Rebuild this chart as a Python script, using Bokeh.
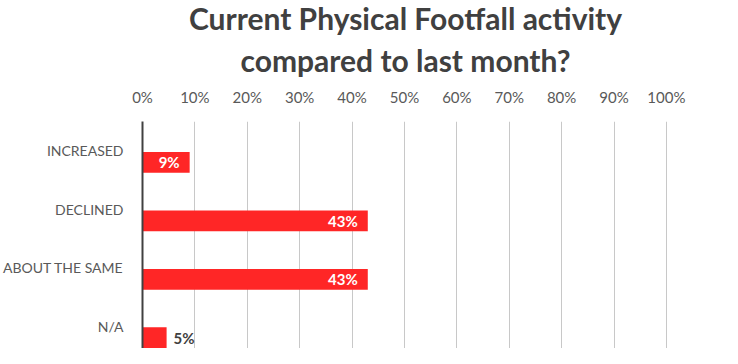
from bokeh.plotting import figure
from bokeh.models import Range1d, FixedTicker, Title, ColumnDataSource
from bokeh.core.properties import value
from bokeh.embed import file_html
from bokeh.resources import INLINE

# ---- data ----
categories = ["INCREASED", "DECLINED", "ABOUT THE SAME", "N/A"]
percentages = [9.0, 43.0, 43.0, 4.6]
x_ticks = [0, 10, 20, 30, 40, 50, 60, 70, 80, 90, 100]
title_lines = ["Current Physical Footfall activity", "compared to last month?"]

FONT = "Lato"
TXT = "#595959"
BAR = "#ff2626"

p = figure(width=722, height=348, output_backend="svg", toolbar_location=None,
           x_range=Range1d(0, 100.4), y_range=Range1d(3.884, 0),
           x_axis_location="above", min_border_left=134, min_border_right=54,
           min_border_bottom=0, min_border_top=0)
p.outline_line_color = None
p.background_fill_color = "white"
p.border_fill_color = "white"

# titles (second line added first so it sits nearest the plot)
standoffs = [13, -5]
for line, so in zip(reversed(title_lines), standoffs):
    t = Title(text=line, align="center", text_font=FONT, text_font_size="30px",
              text_font_style="bold", text_color="#404040",
              standoff=so, offset=0)
    p.add_layout(t, "above")
p.title.visible = False

# x axis (top)
xa = p.xaxis[0]
xa.ticker = FixedTicker(ticks=x_ticks)
xa.major_label_overrides = {t: f"{t}%" for t in x_ticks}
xa.axis_line_color = None
xa.major_tick_line_color = None
xa.minor_tick_line_color = None
xa.major_tick_out = 0
xa.major_label_standoff = 16
xa.major_label_text_font = FONT
xa.major_label_text_font_size = "15px"
xa.major_label_text_color = TXT

# y axis (categories)
ya = p.yaxis[0]
centers = [i + 0.5 for i in range(len(categories))]
ya.ticker = FixedTicker(ticks=centers)
ya.major_label_overrides = {c: cat for c, cat in zip(centers, categories)}
ya.axis_line_color = "#404040"
ya.axis_line_width = 2
ya.major_tick_line_color = None
ya.minor_tick_line_color = None
ya.major_tick_out = 0
ya.major_label_standoff = 19
ya.major_label_text_font = FONT
ya.major_label_text_font_size = "14px"
ya.major_label_text_color = TXT

p.xgrid.ticker = FixedTicker(ticks=x_ticks[1:])
p.xgrid.grid_line_color = "#c8c8c8"
p.ygrid.grid_line_color = None

bar_y = [c + 0.2 for c in centers]
labels = [f"{v:.0f}%" for v in percentages]
inside = [v >= 7 for v in percentages]
src = ColumnDataSource(dict(y=bar_y, v=percentages, lab=labels))
p.hbar(y="y", right="v", left=0, height=0.355, source=src,
       fill_color=BAR, line_color=None)

in_src = ColumnDataSource(dict(y=[y for y, k in zip(bar_y, inside) if k],
                               v=[v for v, k in zip(percentages, inside) if k],
                               lab=[l for l, k in zip(labels, inside) if k]))
out_src = ColumnDataSource(dict(y=[y for y, k in zip(bar_y, inside) if not k],
                                v=[v for v, k in zip(percentages, inside) if not k],
                                lab=[l for l, k in zip(labels, inside) if not k]))
p.text(x="v", y="y", text="lab", source=in_src, x_offset=-10,
       text_align="right", text_baseline="middle", text_color="white",
       text_font=value(FONT), text_font_size="15px", text_font_style="bold")
p.text(x="v", y="y", text="lab", source=out_src, x_offset=7,
       text_align="left", text_baseline="middle", text_color="#404040",
       text_font=value(FONT), text_font_size="15px", text_font_style="bold")

open("out.html", "w").write(file_html(p, INLINE))
